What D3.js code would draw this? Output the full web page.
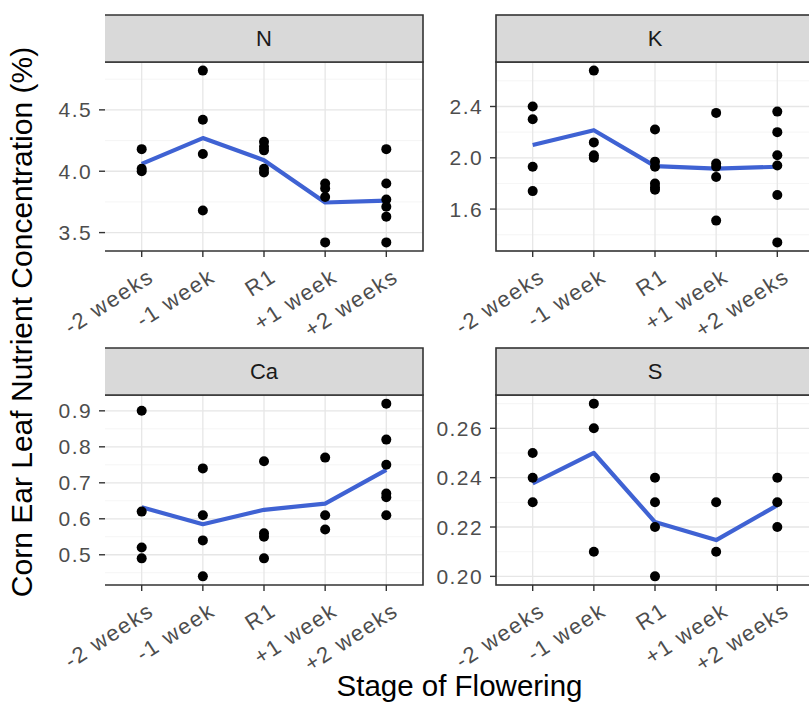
<!DOCTYPE html>
<html>
<head>
<meta charset="utf-8">
<script src="https://cdn.jsdelivr.net/npm/d3@7"></script>
<style>
  html, body { margin: 0; padding: 0; background: #ffffff; }
  svg { display: block; font-family: "Liberation Sans", Arial, sans-serif; }
</style>
</head>
<body>
<svg id="chart" width="809" height="705"></svg>
<script>
// ---------------- data ----------------
const stages = ["-2 weeks", "-1 week", "R1", "+1 week", "+2 weeks"];

const nPoints  = [[4.18, 4.02, 4.00], [4.82, 4.42, 4.14, 3.68], [4.24, 4.20, 4.17, 4.02, 3.99], [3.90, 3.86, 3.79, 3.42], [4.18, 3.90, 3.77, 3.71, 3.63, 3.42]];
const nMeans   = [4.06, 4.27, 4.09, 3.745, 3.76];
const nTicks   = [3.5, 4.0, 4.5];

const kPoints  = [[2.40, 2.30, 1.93, 1.74], [2.68, 2.12, 2.02, 2.00], [2.22, 1.97, 1.93, 1.80, 1.77, 1.75], [2.35, 1.955, 1.93, 1.85, 1.51], [2.36, 2.20, 2.02, 1.94, 1.71, 1.34]];
const kMeans   = [2.10, 2.215, 1.935, 1.915, 1.93];
const kTicks   = [1.6, 2.0, 2.4];

const caPoints = [[0.90, 0.62, 0.52, 0.49], [0.74, 0.61, 0.54, 0.44], [0.76, 0.56, 0.55, 0.49], [0.77, 0.61, 0.57], [0.92, 0.82, 0.75, 0.67, 0.66, 0.61]];
const caMeans  = [0.632, 0.585, 0.625, 0.642, 0.736];
const caTicks  = [0.5, 0.6, 0.7, 0.8, 0.9];

const sPoints  = [[0.25, 0.24, 0.23], [0.27, 0.26, 0.21], [0.24, 0.23, 0.22, 0.20], [0.23, 0.21], [0.24, 0.23, 0.22]];
const sMeans   = [0.2377, 0.25, 0.222, 0.2147, 0.2288];
const sTicks   = [0.20, 0.22, 0.24, 0.26];

const panelNames = ["N", "K", "Ca", "S"];
const tickFormats = [".1f", ".1f", ".1f", ".2f"];

const xTitle = "Stage of Flowering";
const yTitle = "Corn Ear Leaf Nutrient Concentration (%)";

// ---------------- layout ----------------
const colX = [105, 496];
const panelW = 318;
const stripTop = [15, 348];
const stripH = 47;
const panelBottom = [251, 585];

const panels = [
  {name: panelNames[0], pts: nPoints,  means: nMeans,  ticks: nTicks,  fmt: tickFormats[0], col: 0, row: 0},
  {name: panelNames[1], pts: kPoints,  means: kMeans,  ticks: kTicks,  fmt: tickFormats[1], col: 1, row: 0},
  {name: panelNames[2], pts: caPoints, means: caMeans, ticks: caTicks, fmt: tickFormats[2], col: 0, row: 1},
  {name: panelNames[3], pts: sPoints,  means: sMeans,  ticks: sTicks,  fmt: tickFormats[3], col: 1, row: 1}
];

const svg = d3.select("#chart");
svg.append("rect").attr("width", 809).attr("height", 705).attr("fill", "#ffffff");

const borderColor = "#333333";
const tickLabelSize = 21;

panels.forEach(p => {
  const x0 = colX[p.col], x1 = x0 + panelW;
  const sTop = stripTop[p.row];
  const y0 = sTop + stripH, y1 = panelBottom[p.row];

  const x = d3.scalePoint().domain(stages).range([x0, x1]).padding(0.6);

  const allVals = p.pts.flat().concat(p.means);
  const ext = d3.extent(allVals);
  const pad = (ext[1] - ext[0]) * 0.05;
  const y = d3.scaleLinear().domain([ext[0] - pad, ext[1] + pad]).range([y1, y0]);

  const g = svg.append("g");

  // minor grid
  const step = p.ticks[1] - p.ticks[0];
  const minor = [];
  for (let i = -1; i < p.ticks.length; i++) {
    const v = p.ticks[0] + (i + 0.5) * step;
    if (v > y.domain()[0] && v < y.domain()[1]) minor.push(v);
  }
  g.selectAll(".minor").data(minor).join("line")
    .attr("x1", x0).attr("x2", x1)
    .attr("y1", d => y(d)).attr("y2", d => y(d))
    .attr("stroke", "#f2f2f2").attr("stroke-width", 0.8);

  // major grid
  g.selectAll(".majory").data(p.ticks).join("line")
    .attr("x1", x0).attr("x2", x1)
    .attr("y1", d => y(d)).attr("y2", d => y(d))
    .attr("stroke", "#e6e6e6").attr("stroke-width", 1.3);
  g.selectAll(".majorx").data(stages).join("line")
    .attr("x1", d => x(d)).attr("x2", d => x(d))
    .attr("y1", y0).attr("y2", y1)
    .attr("stroke", "#e6e6e6").attr("stroke-width", 1.3);

  // mean line
  const line = d3.line().x((d, i) => x(stages[i])).y(d => y(d));
  g.append("path").datum(p.means)
    .attr("d", line)
    .attr("fill", "none")
    .attr("stroke", "#3f62d3")
    .attr("stroke-width", 4.2)
    .attr("stroke-linejoin", "round");

  // points
  const flatPts = [];
  p.pts.forEach((arr, i) => arr.forEach(v => flatPts.push({s: stages[i], v})));
  g.selectAll(".pt").data(flatPts).join("circle")
    .attr("cx", d => x(d.s)).attr("cy", d => y(d.v))
    .attr("r", 5).attr("fill", "#000000");

  // border
  if (p.col === 0) {
    g.append("path")
      .attr("d", `M${x0},${y0}H${x1}V${y1}H${x0}`)
      .attr("fill", "none").attr("stroke", borderColor).attr("stroke-width", 1.6);
  } else {
    g.append("rect").attr("x", x0).attr("y", y0).attr("width", panelW).attr("height", y1 - y0)
      .attr("fill", "none").attr("stroke", borderColor).attr("stroke-width", 1.6);
  }

  // strip
  if (p.col === 0) {
    g.append("rect").attr("x", x0).attr("y", sTop).attr("width", panelW).attr("height", stripH)
      .attr("fill", "#d9d9d9");
    g.append("path")
      .attr("d", `M${x0},${sTop}H${x1}V${sTop + stripH}H${x0}`)
      .attr("fill", "none").attr("stroke", borderColor).attr("stroke-width", 1.6);
  } else {
    g.append("rect").attr("x", x0).attr("y", sTop).attr("width", panelW).attr("height", stripH)
      .attr("fill", "#d9d9d9").attr("stroke", borderColor).attr("stroke-width", 1.6);
  }
  g.append("text")
    .attr("x", (x0 + x1) / 2).attr("y", sTop + stripH / 2)
    .attr("dy", "0.36em")
    .attr("text-anchor", "middle")
    .attr("font-size", 22)
    .attr("fill", "#1a1a1a")
    .text(p.name);

  // y axis ticks + labels
  const f = d3.format(p.fmt);
  g.selectAll(".ytick").data(p.ticks).join("line")
    .attr("x1", x0 - 6).attr("x2", x0)
    .attr("y1", d => y(d)).attr("y2", d => y(d))
    .attr("stroke", borderColor).attr("stroke-width", 1.4);
  g.selectAll(".ylab").data(p.ticks).join("text")
    .attr("x", x0 - 13).attr("y", d => y(d))
    .attr("dy", "0.36em")
    .attr("text-anchor", "end")
    .attr("font-size", tickLabelSize)
    .attr("letter-spacing", 1.4)
    .attr("fill", "#4d4d4d")
    .text(d => f(d));

  // x axis ticks + labels
  g.selectAll(".xtick").data(stages).join("line")
    .attr("x1", d => x(d)).attr("x2", d => x(d))
    .attr("y1", y1).attr("y2", y1 + 6)
    .attr("stroke", borderColor).attr("stroke-width", 1.4);
  g.selectAll(".xlab").data(stages).join("text")
    .attr("transform", d => `translate(${x(d) + 5},${y1 + 16}) rotate(-33)`)
    .attr("dy", "0.72em")
    .attr("text-anchor", "end")
    .attr("font-size", 22)
    .attr("letter-spacing", 1.6)
    .attr("fill", "#4d4d4d")
    .text(d => d);
});

// axis titles
svg.append("text")
  .attr("x", (colX[0] + colX[1] + panelW) / 2)
  .attr("y", 696)
  .attr("text-anchor", "middle")
  .attr("font-size", 29.5)
  .attr("fill", "#000000")
  .text(xTitle);

svg.append("text")
  .attr("transform", "translate(32,322) rotate(-90)")
  .attr("text-anchor", "middle")
  .attr("font-size", 30)
  .attr("fill", "#000000")
  .text(yTitle);
</script>
</body>
</html>
